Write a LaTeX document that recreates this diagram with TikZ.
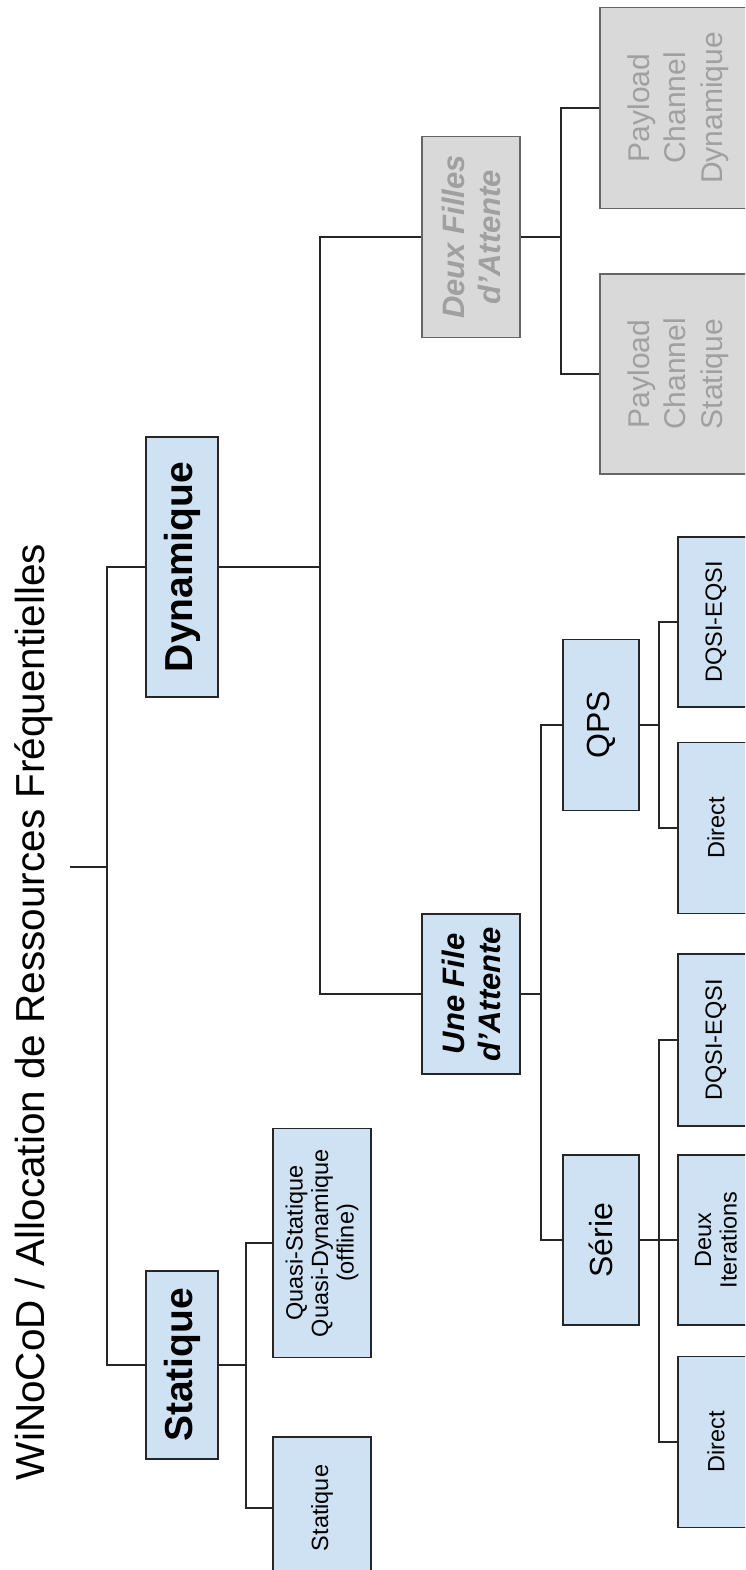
\documentclass[tikz,border=0pt]{standalone}
\usepackage{fontspec}
\setmainfont{Liberation Sans}
\definecolor{boxBlue}{HTML}{CFE2F3}
\definecolor{boxGray}{HTML}{D9D9D9}
\definecolor{textGray}{HTML}{A0A0A0}
\begin{document}
\begin{tikzpicture}
            [x=1pt, y=-1pt,
             myBox/.style={rectangle,
                        draw=black!85,
                        fill=boxBlue,
                        line width=1.1pt,
                        rotate=90,
                        align=center,
                        inner sep=0pt},
             grayBox/.style={myBox, draw=black!60, fill=boxGray, text=textGray},
             bigFont/.style={font=\fontsize{39}{44}\selectfont\bfseries},
             midFont/.style={font=\fontsize{31}{36}\selectfont\bfseries\itshape},
             normFont/.style={font=\fontsize{32}{36.5}\selectfont},
             payloadFont/.style={font=\fontsize{30}{36.5}\selectfont},
             smallFont/.style={font=\fontsize{23.5}{25.5}\selectfont},
             link/.style={line width=1.1pt, black!85}]

            \useasboundingbox (0,0) rectangle (745,1570);
            \clip (0,0) rectangle (745,1570);

            \node[rotate=90, inner sep=0pt, font=\fontsize{40.5}{46}\selectfont] (title) at (34, 1012) {WiNoCoD / Allocation de Ressources Fréquentielles};

            \node[myBox, bigFont, minimum width=260, minimum height=72] (dynamique) at (182, 567) {Dynamique};
            \node[myBox, bigFont, minimum width=188, minimum height=72] (statique) at (182, 1365) {Statique};

            \node[myBox, smallFont, minimum width=229, minimum height=98] (quasiStatique) at (322, 1243) {Quasi-Statique\\Quasi-Dynamique\\(offline)};
            \node[myBox, smallFont, minimum width=142, minimum height=98] (statiqueSimple) at (322, 1508) {Statique};

            \node[grayBox, midFont, minimum width=201, minimum height=98] (deuxFiles) at (471, 237) {Deux Filles\\d’Attente};
            \node[myBox, midFont, minimum width=160, minimum height=98] (uneFile) at (471, 994) {Une File\\d’Attente};

            \node[grayBox, payloadFont, minimum width=201, minimum height=156] (payloadDynamique) at (678, 108) {Payload\\Channel\\Dynamique};
            \node[grayBox, payloadFont, minimum width=200, minimum height=156] (payloadStatique) at (678, 374) {Payload\\Channel\\Statique};

            \node[myBox, normFont, minimum width=171, minimum height=76] (qps) at (601, 725) {QPS};
            \node[myBox, normFont, minimum width=170, minimum height=76] (serie) at (601, 1240) {Série};

            \node[myBox, smallFont, minimum width=170, minimum height=76] (qpsDqsi) at (716, 622) {DQSI-EQSI};
            \node[myBox, smallFont, minimum width=171, minimum height=76] (qpsDirect) at (716, 828) {Direct};
            \node[myBox, smallFont, minimum width=172, minimum height=76] (serieDqsi) at (716, 1040) {DQSI-EQSI};
            \node[myBox, smallFont, minimum width=170, minimum height=76] (serieDeux) at (716, 1240) {Deux\\Iterations};
            \node[myBox, smallFont, minimum width=171, minimum height=76] (serieDirect) at (716, 1442) {Direct};

            \coordinate (root) at (70, 867);
            \coordinate (rootFork) at (107, 867);
            \coordinate (dynFork) at (320, 567);
            \coordinate (statFork) at (246, 1365);
            \coordinate (deuxFork) at (561, 237);
            \coordinate (uneFork) at (541, 994);
            \coordinate (qpsFork) at (659, 725);
            \coordinate (serieFork) at (659, 1240);

            \draw [link] (root) to (rootFork);
            \draw [link] (dynamique.north) -| (rootFork) |- (statique.north);

            \draw [link] (statique.south) to (statFork);
            \draw [link] (quasiStatique.north) -| (statFork) |- (statiqueSimple.north);

            \draw [link] (dynamique.south) to (dynFork);
            \draw [link] (deuxFiles.north) -| (dynFork) |- (uneFile.north);

            \draw [link] (deuxFiles.south) to (deuxFork);
            \draw [link] (payloadDynamique.north) -| (deuxFork) |- (payloadStatique.north);

            \draw [link] (uneFile.south) to (uneFork);
            \draw [link] (qps.north) -| (uneFork) |- (serie.north);

            \draw [link] (qps.south) to (qpsFork);
            \draw [link] (qpsDqsi.north) -| (qpsFork) |- (qpsDirect.north);

            \draw [link] (serie.south) to (serieFork);
            \draw [link] (serieDqsi.north) -| (serieFork) |- (serieDirect.north);
            \draw [link] (serieFork) to (serieDeux.north);
        \end{tikzpicture}
\end{document}
